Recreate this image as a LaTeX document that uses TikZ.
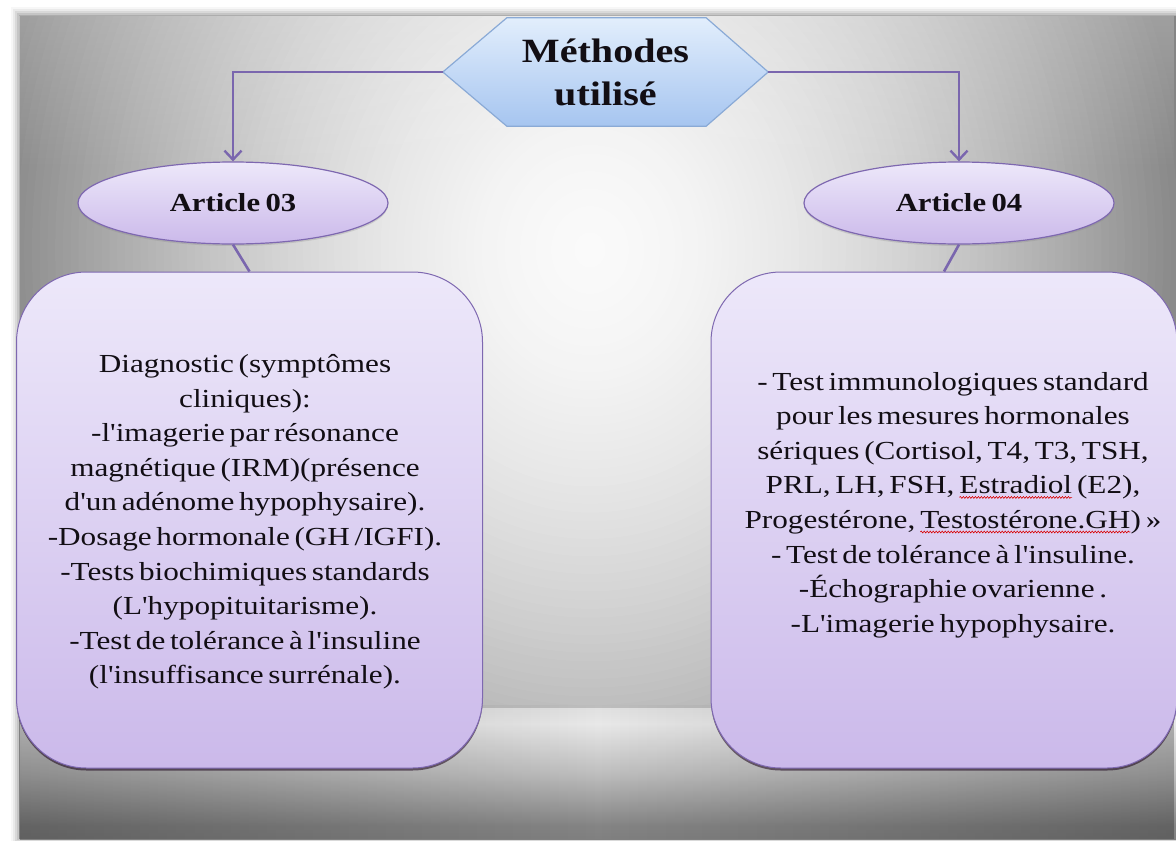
\documentclass[tikz,border=0pt]{standalone}
\usepackage{fontspec}
\newfontfamily\serifwide{Liberation Serif}[FakeStretch=1.2,Ligatures=TeXOff,WordSpace=0.6]
\newfontfamily\seriftitle{Liberation Serif}[FakeStretch=1.18,Ligatures=TeXOff,WordSpace=0.7]
\usetikzlibrary{arrows.meta,shapes.geometric,shadows,fadings,decorations.pathmorphing}

\pgfdeclarelayer{back}
\pgfdeclarelayer{mid}
\pgfsetlayers{back,mid,main}

\definecolor{linkpurple}{RGB}{122,102,174}
\definecolor{lavtop}{RGB}{237,232,250}
\definecolor{lavbot}{RGB}{203,185,234}
\definecolor{edgepurple}{RGB}{126,104,176}
\definecolor{hextop}{RGB}{226,238,252}
\definecolor{hexbot}{RGB}{166,197,240}
\definecolor{hexedge}{RGB}{138,170,214}
\definecolor{inkdark}{RGB}{18,14,20}

% floor, from bottom to top
\pgfdeclareverticalshading{floorshade}{100bp}{%
  color(0bp)=(black!58); color(30bp)=(black!48); color(50bp)=(black!25);
  color(68bp)=(black!9); color(90bp)=(black!20); color(100bp)=(black!36)}
\tikzfading[name=fadesides, left color=transparent!0, right color=transparent!0,
  middle color=transparent!100]
\tikzfading[name=fadedown, top color=transparent!0, bottom color=transparent!100]

% red spelling mark under a word
\newcommand\spellflag[1]{\tikz[baseline=(sw.base)]{%
  \node[inner sep=0pt,outer sep=0pt] (sw) {#1};
  \draw[red!85!black, line width=0.6pt, decorate,
    decoration={snake, amplitude=0.9pt, segment length=3pt}]
    ([yshift=-3.5pt]sw.base west) -- ([yshift=-3.5pt]sw.base east);}}

\begin{document}
\begin{tikzpicture}[x=1pt,y=-1pt,
  conn/.style={draw=linkpurple, line width=2.6pt},
  tipdown/.style={-{Straight Barb[length=9pt,width=17pt,line width=2.4pt]}},
  titletext/.style={font=\seriftitle\bfseries\fontsize{34}{43}\selectfont,
    text=inkdark, align=center},
  ovalbox/.style={ellipse, draw=edgepurple, line width=1.2pt,
    top color=lavtop, bottom color=lavbot,
    minimum width=310pt, minimum height=82pt,
    drop shadow={shadow xshift=0pt, shadow yshift=-2pt, opacity=.25},
    font=\seriftitle\bfseries\fontsize{26}{30}\selectfont, text=inkdark},
  lavbox/.style={draw=edgepurple, line width=1pt,
    top color=lavtop, bottom color=lavbot, rounded corners=70pt,
    minimum width=466pt, minimum height=496pt,
    drop shadow={shadow xshift=0pt, shadow yshift=-2.5pt, opacity=.55,
      fill=black!80!violet}},
  bodytext/.style={font=\serifwide\fontsize{26}{34.6}\selectfont,
    text=inkdark, align=center, inner sep=0pt}]

\useasboundingbox (0,0) rectangle (1176,841);

% ---------- stage backdrop ----------
\begin{pgfonlayer}{back}
  \fill[white] (0,0) rectangle (1176,841);
  \foreach \d/\o in {9/0.03,7/0.05,5/0.07,3/0.09,1/0.12}
    \fill[black,opacity=\o] ({20-\d},{16-\d}) rectangle (1176,{839+\d/3});
  % back wall: spotlight built from concentric rings
  \begin{scope}
    \clip (20,16) rectangle (1176,706);
    \foreach \i in {0,...,115} {
      \pgfmathsetmacro\t{1.45-\i*0.0125}
      \pgfmathsetmacro\g{max(52,98-48*(\t)^1.7)}
      \fill[white!\g!black] (590,250) ellipse [x radius={620*\t}, y radius={700*\t}];
    }
  \end{scope}
  \fill[white, opacity=.22, path fading=fadedown] (20,16) rectangle (1176,170);
  % floor
  \shade[shading=floorshade] (20,705) rectangle (1176,839);
  \fill[black, opacity=.25, path fading=fadesides] (20,705) rectangle (1176,839);
  \draw[black, opacity=.15, line width=3pt] (20,706) -- (1176,706);
\end{pgfonlayer}

% ---------- title ----------
\node[titletext, minimum width=325pt, minimum height=108pt, inner sep=0pt]
  (hex) at (605.5,72) {Méthodes\\utilisé};
\begin{pgfonlayer}{mid}
  \path[draw=hexedge, line width=1.2pt, top color=hextop, bottom color=hexbot]
    (hex.west) -- ([xshift=64pt]hex.north west) -- ([xshift=-62pt]hex.north east)
    -- (hex.east) -- ([xshift=-62pt]hex.south east) -- ([xshift=64pt]hex.south west)
    -- cycle;
\end{pgfonlayer}

% ---------- articles ----------
\node[ovalbox] (a3) at (233,203) {Article 03};
\node[ovalbox] (a4) at (959,203) {Article 04};

\node[lavbox] (b3) at (249.5,520) {};
\node[lavbox] (b4) at (944,520) {};

\node[bodytext] (t3) at (245,522) {Diagnostic (symptômes\\
  cliniques):\\
  -l'imagerie par résonance\\
  magnétique (IRM)(présence\\
  d'un adénome hypophysaire).\\
  -Dosage hormonale (GH /IGFI).\\
  -Tests biochimiques standards\\
  (L'hypopituitarisme).\\
  -Test de tolérance à l'insuline\\
  (l'insuffisance surrénale).};

\node[bodytext] (t4) at (953,505) {- Test immunologiques standard\\
  pour les mesures hormonales\\
  sériques (Cortisol, T4, T3, TSH,\\
  PRL, LH, FSH, \spellflag{Estradiol} (E2),\\
  Progestérone, \spellflag{Testostérone.GH}) »\\
  - Test de tolérance à l'insuline.\\
  -Échographie ovarienne .\\
  -L'imagerie hypophysaire.};

% ---------- connectors ----------
\draw[conn, tipdown] (hex.west) -| (a3.north);
\draw[conn, tipdown] (hex.east) -| (a4.north);
\draw[conn] (a3.south) -- (b3.north);
\draw[conn] (a4.south) -- (b4.north);

\end{tikzpicture}
\end{document}
